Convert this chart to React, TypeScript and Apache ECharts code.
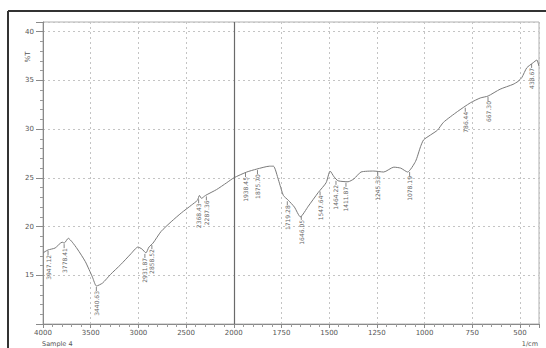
import { useEffect, useRef } from "react";
import * as echarts from "echarts";

// Spectrum (wavenumber in 1/cm, transmittance in %T)
const wavenumbers = [4000, 3947, 3873, 3799, 3778, 3735, 3693, 3640, 3556, 3481, 3440, 3376, 3291, 3185, 3079, 3005, 2963, 2921, 2889, 2847, 2762, 2656, 2550, 2444, 2381, 2360, 2339, 2296, 2180, 2074, 2000, 1932, 1880, 1812, 1792, 1766, 1740, 1714, 1682, 1651, 1609, 1557, 1516, 1495, 1474, 1453, 1401, 1370, 1333, 1266, 1214, 1161, 1125, 1089, 1047, 1021, 1005, 969, 932, 901, 828, 760, 708, 667, 604, 536, 510, 490, 464, 432, 411, 401];
const transmittance = [17.3, 17.6, 17.8, 18.4, 18.3, 18.8, 18.4, 17.7, 16.4, 14.8, 13.9, 14.2, 15.1, 16.1, 17.2, 17.9, 17.7, 17.3, 17.9, 18.3, 19.5, 20.5, 21.4, 22.2, 22.7, 23.2, 22.9, 23.2, 23.8, 24.5, 25.0, 25.6, 25.9, 26.2, 26.2, 24.8, 23.2, 22.7, 22.0, 21.0, 22.1, 23.5, 24.5, 25.7, 25.1, 24.7, 24.6, 24.9, 25.6, 25.7, 25.6, 26.1, 26.0, 25.6, 26.7, 28.2, 28.9, 29.4, 29.9, 30.7, 31.8, 32.7, 33.2, 33.4, 34.1, 34.6, 34.9, 35.3, 36.3, 36.8, 37.1, 36.5];

// Annotated peaks
const peakWn = [3947.12, 3778.41, 3440.63, 2931.87, 2858.52, 2368.43, 2287.36, 1938.45, 1875.70, 1719.28, 1646.05, 1547.64, 1464.22, 1411.87, 1245.33, 1078.19, 786.44, 667.30, 438.67];
const peakT = [17.6, 18.3, 13.9, 17.3, 18.2, 22.9, 23.2, 25.6, 25.9, 22.7, 21.2, 23.7, 24.8, 24.6, 25.7, 25.7, 32.3, 33.4, 36.8];

// Axis tick labels (1/cm); scale changes at 2000
const xTickLabels = [4000, 3500, 3000, 2500, 2000, 1750, 1500, 1250, 1000, 750, 500];
const yTickLabels = [15, 20, 25, 30, 35, 40];

const toU = (w: number) => (w >= 2000 ? (4000 - w) / 2 : 1000 + (2000 - w));
const fromU = (u: number) => (u <= 1000 ? 4000 - 2 * u : 2000 - (u - 1000));

export default function App() {
  const ref = useRef<HTMLDivElement>(null);
  useEffect(() => {
    if (!ref.current) return;
    const chart = echarts.init(ref.current, undefined, { renderer: "svg" });
    const font = "'DejaVu Sans', sans-serif";
    const lineData = wavenumbers.map((w, i) => [toU(w), transmittance[i]]);
    const peakData = peakWn.map((w, i) => [toU(w), peakT[i], w.toFixed(2)]);
    chart.setOption({
      animation: false,
      backgroundColor: "#ffffff",
      grid: {
        left: 43,
        top: 22,
        width: 496,
        height: 302,
        show: true,
        borderColor: "#b0b0b0",
        borderWidth: 1,
      },
      xAxis: {
        type: "value",
        min: 0,
        max: 2600,
        interval: 250,
        axisLine: { show: true, onZero: false, lineStyle: { color: "#8a8a8a", width: 1 } },
        axisTick: { show: true, length: 4, lineStyle: { color: "#8a8a8a" } },
        minorTick: { show: true, splitNumber: 5, length: 3, lineStyle: { color: "#9a9a9a" } },
        axisLabel: {
          color: "#555",
          fontSize: 7,
          fontFamily: font,
          margin: 5,
          formatter: (v: number) => {
            const w = Math.round(fromU(v));
            return xTickLabels.includes(w) ? String(w) : "";
          },
        },
        splitLine: { show: true, lineStyle: { color: "#c4c4c4", type: [2, 3], width: 1 } },
      },
      yAxis: {
        type: "value",
        min: 10,
        max: 41,
        interval: 5,
        axisLine: { show: true, lineStyle: { color: "#8a8a8a", width: 1 } },
        axisTick: { show: true, length: 7, lineStyle: { color: "#8a8a8a" } },
        minorTick: { show: true, splitNumber: 5, length: 3, lineStyle: { color: "#9a9a9a" } },
        axisLabel: {
          color: "#555",
          fontSize: 7,
          fontFamily: font,
          margin: 9,
          formatter: (v: number) => (yTickLabels.includes(v) ? String(v) : ""),
        },
        splitLine: { show: true, lineStyle: { color: "#c4c4c4", type: [2, 3], width: 1 } },
      },
      series: [
        {
          type: "line",
          data: lineData,
          showSymbol: false,
          smooth: 0.2,
          itemStyle: { color: "#7a7a7a" },
          lineStyle: { color: "#7a7a7a", width: 1 },
          markLine: {
            silent: true,
            symbol: "none",
            label: { show: false },
            lineStyle: { color: "#6a6a6a", type: "solid", width: 1.2 },
            data: [{ xAxis: 1000 }],
          },
          z: 3,
        },
        {
          type: "custom",
          data: peakData,
          z: 4,
          itemStyle: { color: "#666" },
          renderItem: (params: any, api: any) => {
            const p = api.coord([api.value(0), api.value(1)]);
            const label = peakData[params.dataIndex][2] as string;
            return {
              type: "group",
              children: [
                {
                  type: "line",
                  shape: { x1: p[0], y1: p[1] + 1, x2: p[0], y2: p[1] + 5 },
                  style: { stroke: "#666", lineWidth: 0.8 },
                },
                {
                  type: "text",
                  x: p[0],
                  y: p[1] + 5,
                  rotation: Math.PI / 2,
                  style: {
                    text: label,
                    fill: "#666",
                    fontSize: 6,
                    fontFamily: font,
                    align: "right",
                    verticalAlign: "middle",
                  },
                },
              ],
            };
          },
        },
      ],
      graphic: [
        { type: "line", shape: { x1: 8, y1: 11, x2: 546, y2: 11 }, style: { stroke: "#333", lineWidth: 2 } },
        { type: "line", shape: { x1: 8, y1: 11, x2: 8, y2: 348 }, style: { stroke: "#333", lineWidth: 2 } },
        {
          type: "text",
          x: 28,
          y: 57,
          rotation: Math.PI / 2,
          style: { text: "%T", fill: "#555", fontSize: 7, fontFamily: font, align: "center", verticalAlign: "middle" },
        },
        {
          type: "text",
          x: 42,
          y: 344,
          style: { text: "Sample 4", fill: "#555", fontSize: 6.5, fontFamily: font, align: "left", verticalAlign: "middle" },
        },
        {
          type: "text",
          x: 538,
          y: 344,
          style: { text: "1/cm", fill: "#555", fontSize: 6.5, fontFamily: font, align: "right", verticalAlign: "middle" },
        },
      ],
    });
    return () => chart.dispose();
  }, []);
  return (
    <div
      ref={ref}
      style={{ position: "fixed", left: 0, top: 0, width: 546, height: 348 }}
    />
  );
}
